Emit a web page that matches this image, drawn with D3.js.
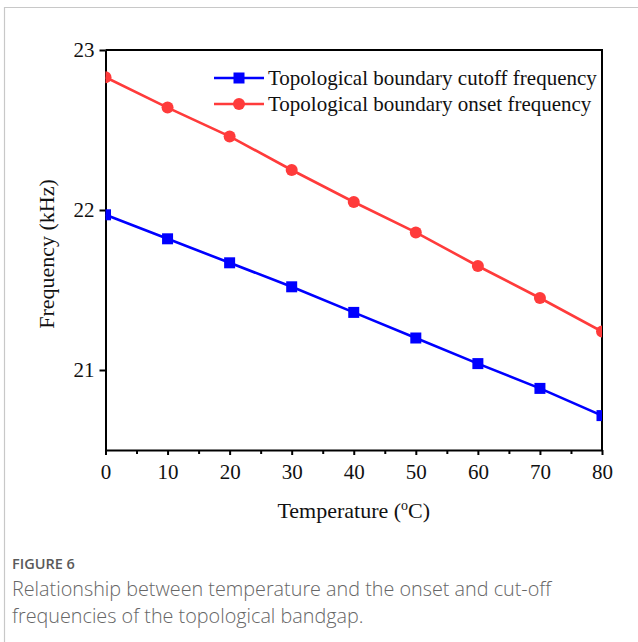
<!DOCTYPE html>
<html>
<head>
<meta charset="utf-8">
<script src="https://cdn.jsdelivr.net/npm/d3@7"></script>
<style>
  body { margin: 0; background: #fff; }
  svg { display: block; }
</style>
</head>
<body>
<div id="chartFrame"></div>
<script>
const temps = [0, 10, 20, 30, 40, 50, 60, 70, 80]
const cutoff = [21.97, 21.82, 21.67, 21.52, 21.36, 21.2, 21.04, 20.885, 20.715]
const onset = [22.83, 22.64, 22.46, 22.25, 22.05, 21.86, 21.65, 21.45, 21.24]
const xTicks = [0, 10, 20, 30, 40, 50, 60, 70, 80]
const yTicks = [21, 22, 23]
const seriesNames = ['Topological boundary cutoff frequency', 'Topological boundary onset frequency']
const captionTitle = 'FIGURE 6'
const captionLines = ['Relationship between temperature and the onset and cut-off', 'frequencies of the topological bandgap.']

const W = 638
const H = 642
const margin = { top: 50, left: 105.5, right: 36, bottom: 192 }
const serif = '"Liberation Serif", "Times New Roman", serif'
const blue = '#0000ff'
const red = '#ff3b3b'

let svg = d3.select('#chartFrame').append('svg')
  .attr('width', W)
  .attr('height', H)

// card border
svg.append('path')
  .attr('d', `M4.5,${H} V7.5 H${W}`)
  .style('fill', 'none')
  .style('stroke', '#c8c8c8')
  .style('stroke-width', 1.2)

let width = W - margin.left - margin.right
let height = H - margin.top - margin.bottom

const xScale = d3.scaleLinear().domain([0, 80]).range([0, width])
const yScale = d3.scaleLinear().domain([20.5, 23]).range([height, 0])

let g = svg.append('g')
  .attr('transform', `translate(${margin.left},${margin.top})`)

// frame (top + right)
g.append('path')
  .attr('d', `M0,0 H${width} V${height}`)
  .style('fill', 'none')
  .style('stroke', '#000')
  .style('stroke-width', 2)

// minor x ticks
let xaxisMinor = g.append('g')
  .attr('transform', `translate(0,${height})`)
  .call(d3.axisBottom(xScale).tickValues(d3.range(5, 80, 10)).tickSize(4).tickFormat(''))
xaxisMinor.select('.domain').remove()

let xaxis = g.append('g')
  .attr('transform', `translate(0,${height})`)
  .call(d3.axisBottom(xScale).tickValues(xTicks).tickSize(5).tickSizeOuter(0).tickPadding(6).tickFormat(d3.format('d')))
let yaxis = g.append('g')
  .call(d3.axisLeft(yScale).tickValues(yTicks).tickSize(6).tickSizeOuter(0).tickPadding(5).tickFormat(d3.format('d')))

;[xaxis, yaxis, xaxisMinor].forEach(ax => {
  ax.selectAll('line').style('stroke', '#000').style('stroke-width', 2)
  ax.select('.domain').style('stroke', '#000').style('stroke-width', 2)
  ax.selectAll('text')
    .style('font-family', serif)
    .style('font-size', '21px')
    .style('fill', '#111')
})
xaxis.selectAll('text').attr('dy', '0.85em')

// axis titles
let xt = g.append('text')
  .attr('x', width / 2)
  .attr('y', height + 68)
  .attr('text-anchor', 'middle')
  .style('font-family', serif)
  .style('font-size', '22px')
  .style('fill', '#111')
xt.append('tspan').text('Temperature (')
xt.append('tspan').attr('dy', -8).style('font-size', '14px').text('o')
xt.append('tspan').attr('dy', 8).text('C)')

g.append('text')
  .attr('transform', `translate(-52,${height / 2 + 4}) rotate(-90)`)
  .attr('text-anchor', 'middle')
  .style('font-family', serif)
  .style('font-size', '22px')
  .style('fill', '#111')
  .text('Frequency (kHz)')

// series
const series = [
  { name: seriesNames[0], values: cutoff, color: blue, shape: 'square' },
  { name: seriesNames[1], values: onset, color: red, shape: 'circle' }
]

let line = d3.line()
  .x((d, i) => xScale(temps[i]))
  .y(d => yScale(d))

let clip = g.append('clipPath').attr('id', 'plotClip')
clip.append('rect').attr('x', 0).attr('y', 0).attr('width', width).attr('height', height)

let drawMarker = function (sel, shape, color, cx, cy) {
  if (shape === 'square') {
    sel.append('rect')
      .attr('x', cx - 5.5).attr('y', cy - 5.5)
      .attr('width', 11).attr('height', 11)
      .style('fill', color)
  } else {
    sel.append('circle')
      .attr('cx', cx).attr('cy', cy).attr('r', 6)
      .style('fill', color)
  }
}

let plot = g.append('g').attr('clip-path', 'url(#plotClip)')
series.forEach(s => {
  plot.append('path')
    .datum(s.values)
    .attr('d', line)
    .style('fill', 'none')
    .style('stroke', s.color)
    .style('stroke-width', 2.6)
  s.values.forEach((v, i) => drawMarker(plot, s.shape, s.color, xScale(temps[i]), yScale(v)))
})

// legend
let legend = g.append('g').attr('transform', `translate(${214 - margin.left},${78 - margin.top})`)
series.forEach((s, i) => {
  let row = legend.append('g').attr('transform', `translate(0,${i * 26})`)
  row.append('line')
    .attr('x1', 0).attr('x2', 50)
    .style('stroke', s.color)
    .style('stroke-width', 2.6)
  drawMarker(row, s.shape, s.color, 25, 0)
  row.append('text')
    .attr('x', 54)
    .attr('dy', '0.35em')
    .style('font-family', serif)
    .style('font-size', '21px')
    .style('fill', '#111')
    .text(s.name)
})

// caption
svg.append('text')
  .attr('x', 12)
  .attr('y', 569)
  .style('font-family', '"Open Sans", sans-serif')
  .style('font-size', '14.5px')
  .style('font-weight', 600)
  .style('fill', '#5a5a5a')
  .text(captionTitle)
captionLines.forEach((t, i) => {
  svg.append('text')
    .attr('x', 12)
    .attr('y', 596 + i * 26.5)
    .style('font-family', '"Open Sans", sans-serif')
    .style('font-size', '19.8px')
    .style('font-weight', 300)
    .style('fill', '#666')
    .text(t)
})
</script>
</body>
</html>
